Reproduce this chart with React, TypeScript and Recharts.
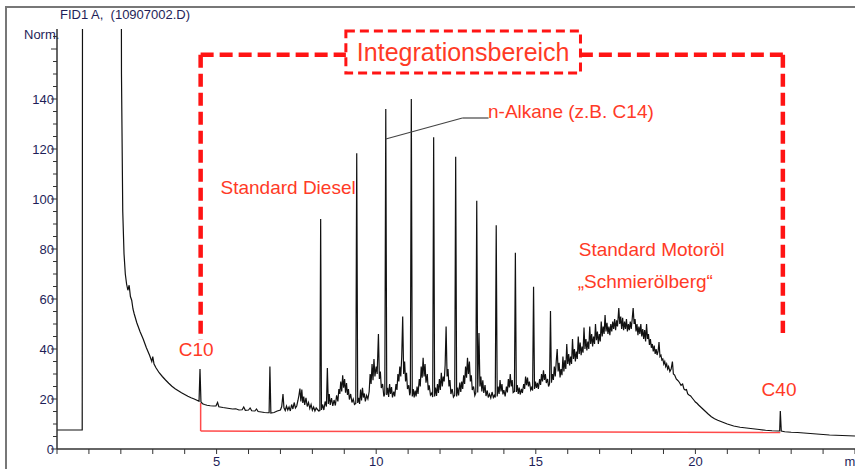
import { LineChart, Line, XAxis, YAxis, ReferenceLine, ReferenceArea, ReferenceDot, Label } from 'recharts'

// chromatogram trace, [minutes, signal]
const solventTrace: [number, number][] = [
  [0, 7.6], [0.79, 7.6], [0.81, 400], [1.99, 400], [2.02, 150], [2.06, 95], [2.1, 78], [2.14, 70],
  [2.18, 66], [2.22, 63.5], [2.26, 65.5], [2.3, 61], [2.34, 59.5], [2.38, 56], [2.42, 54], [2.5, 50.5],
  [2.6, 47], [2.7, 44], [2.8, 40.5], [2.9, 37.5], [2.97, 35], [3.0, 37], [3.04, 34], [3.1, 32.5],
  [3.2, 30.5], [3.3, 29], [3.4, 27.6], [3.5, 26.3], [3.6, 25.1], [3.7, 24.1], [3.8, 23.3], [3.9, 22.5],
  [4.0, 21.8], [4.1, 21.1], [4.2, 20.5], [4.3, 20], [4.4, 19.4], [4.45, 19.1], [4.48, 32], [4.51, 18.8],
  [4.56, 18.1], [4.62, 17.8], [4.7, 17.5], [4.8, 17.3], [4.9, 17.2], [4.98, 17.2], [5.03, 18.6], [5.07, 16.9],
  [5.2, 16.6], [5.3, 16.4], [5.4, 16.2], [5.5, 16], [5.6, 16.1], [5.7, 15.6], [5.8, 15.7], [5.85, 16.8],
  [5.9, 15.5], [6.0, 15.6], [6.05, 16.4], [6.1, 15.3], [6.2, 15.2], [6.25, 16], [6.3, 15], [6.4, 14.8],
  [6.5, 14.6], [6.6, 14.5], [6.645, 14.5], [6.67, 33], [6.7, 14.4], [6.8, 14.6], [6.9, 15.2],
]

const dieselTrace: [number, number][] = [
  [7.0, 15.6], [7.04, 17], [7.08, 22], [7.11, 16.5], [7.15, 15.4], [7.19, 17.2], [7.23, 15.6], [7.27, 16.8],
  [7.31, 15.2], [7.35, 17.8], [7.39, 16], [7.43, 18.6], [7.47, 16.4], [7.51, 17.2], [7.55, 19.5], [7.58, 21.5],
  [7.61, 24.2], [7.64, 19], [7.67, 23.8], [7.7, 18.4], [7.73, 21], [7.76, 17.6], [7.8, 20.5], [7.84, 17],
  [7.88, 18.6], [7.92, 16.2], [7.96, 17.8], [8.0, 15.5], [8.04, 16.8], [8.08, 15.2], [8.12, 16.4], [8.16, 15.8],
  [8.2, 15.2], [8.235, 15.4], [8.26, 92], [8.285, 15.6], [8.32, 17.8], [8.36, 15.6], [8.4, 19], [8.44, 17],
  [8.47, 32.4], [8.5, 18], [8.53, 22], [8.56, 17.6], [8.6, 20.4], [8.64, 17.2], [8.68, 19.6], [8.72, 17.4],
  [8.76, 21.5], [8.8, 19], [8.83, 24], [8.86, 22], [8.89, 27], [8.92, 23], [8.95, 29.5], [8.98, 24.5],
  [9.01, 28], [9.04, 22.5], [9.07, 26.4], [9.1, 21.6], [9.13, 24], [9.16, 19.8], [9.2, 22], [9.24, 18.6],
  [9.28, 20], [9.32, 17.8], [9.36, 18.2], [9.39, 118.3], [9.42, 18.4], [9.45, 20.5], [9.48, 18], [9.51, 23.8],
  [9.54, 19.4], [9.57, 24.5], [9.6, 20.6], [9.63, 22.2], [9.66, 19], [9.7, 21.4], [9.74, 20], [9.78, 23],
  [9.81, 30], [9.84, 26], [9.87, 34], [9.9, 27.5], [9.93, 36], [9.96, 29], [10.0, 33], [10.03, 30],
  [10.07, 46], [10.1, 28], [10.13, 31], [10.16, 24.4], [10.2, 26], [10.24, 21], [10.27, 22], [10.3, 136],
  [10.33, 21.6], [10.36, 24.5], [10.39, 20.8], [10.42, 26], [10.45, 22], [10.48, 24.8], [10.51, 20.6], [10.55, 23],
  [10.58, 21], [10.62, 26], [10.65, 23.6], [10.68, 30], [10.71, 27], [10.74, 33], [10.77, 29], [10.8, 37],
  [10.83, 53], [10.86, 30], [10.89, 35], [10.92, 27], [10.95, 30.5], [10.98, 24], [11.02, 25.5], [11.05, 21.5],
  [11.07, 22.6], [11.1, 140], [11.13, 21], [11.16, 24], [11.19, 20.6], [11.22, 23.4], [11.25, 21], [11.28, 25],
  [11.31, 22], [11.35, 28], [11.38, 25], [11.41, 33], [11.44, 28.5], [11.47, 36.5], [11.5, 29], [11.53, 34],
  [11.56, 26.5], [11.6, 30], [11.63, 23.5], [11.66, 25.5], [11.7, 21.6], [11.74, 22.4], [11.77, 20.8], [11.8, 124.7],
  [11.83, 21], [11.86, 24.6], [11.89, 21.2], [11.92, 26], [11.95, 22.4], [11.98, 28], [12.01, 23.6], [12.04, 30.5],
  [12.07, 25], [12.1, 29], [12.13, 27], [12.16, 33.6], [12.19, 49], [12.22, 29], [12.25, 32], [12.28, 25],
  [12.31, 27.6], [12.34, 22], [12.38, 24], [12.42, 20.8], [12.46, 21.6], [12.49, 116.9], [12.52, 21], [12.55, 24.6],
  [12.58, 21.4], [12.62, 26.6], [12.65, 22.8], [12.68, 27], [12.71, 24], [12.74, 29.5], [12.77, 26], [12.8, 33],
  [12.83, 28.5], [12.86, 36.5], [12.89, 30], [12.92, 35], [12.95, 27], [12.98, 29.5], [13.01, 23.6], [13.05, 25],
  [13.09, 21.4], [13.12, 22.4], [13.15, 99.3], [13.18, 22.6], [13.22, 46.4], [13.25, 25], [13.28, 29], [13.31, 23],
  [13.34, 27.5], [13.37, 22.4], [13.41, 25.6], [13.44, 21.2], [13.48, 23.4], [13.51, 20.6], [13.55, 22], [13.59, 20.4],
  [13.63, 22.8], [13.67, 20.6], [13.7, 21.4], [13.73, 20.6], [13.76, 89.5], [13.79, 21], [13.82, 25], [13.85, 22],
  [13.88, 27.6], [13.91, 23], [13.94, 26], [13.97, 21.8], [14.0, 23.6], [14.04, 21], [14.08, 25], [14.11, 22.6],
  [14.14, 28], [14.17, 24.6], [14.2, 30], [14.23, 25], [14.26, 27.6], [14.29, 22.6], [14.33, 23], [14.36, 78.5],
  [14.39, 22.8], [14.42, 25.6], [14.45, 22], [14.48, 24.6], [14.51, 21.8], [14.55, 24], [14.58, 22.4], [14.62, 26],
  [14.65, 24], [14.68, 29], [14.71, 25.5], [14.74, 28.6], [14.77, 25], [14.8, 27], [14.84, 23.6], [14.87, 24.6],
  [14.9, 23.4], [14.93, 64.9], [14.96, 24], [14.99, 27], [15.02, 24.4], [15.05, 26.5], [15.08, 24], [15.12, 28],
  [15.15, 25.6], [15.18, 30], [15.21, 27], [15.24, 31.5], [15.27, 27.6], [15.3, 30], [15.33, 26.4], [15.37, 28],
  [15.4, 25], [15.43, 26], [15.46, 55.2], [15.49, 26.5],
]

const motorOilTrace: [number, number][] = [
  [15.52, 30], [15.55, 27.6], [15.58, 33], [15.61, 29], [15.64, 35], [15.67, 40], [15.7, 31], [15.73, 34.5],
  [15.76, 28.6], [15.79, 32], [15.82, 29.5], [15.85, 37], [15.88, 31], [15.91, 35.5], [15.94, 32], [15.97, 42],
  [16.0, 34], [16.03, 38], [16.06, 33.4], [16.09, 37], [16.12, 34], [16.15, 44], [16.18, 36], [16.21, 40],
  [16.24, 35], [16.27, 39], [16.3, 36], [16.33, 45], [16.36, 38], [16.39, 42.6], [16.42, 37.5], [16.45, 41],
  [16.48, 38.5], [16.51, 48.6], [16.54, 40], [16.57, 44], [16.6, 39.4], [16.63, 43], [16.66, 40], [16.69, 49],
  [16.72, 42], [16.75, 46], [16.78, 41], [16.81, 45], [16.84, 42], [16.87, 50], [16.9, 43.5], [16.93, 47],
  [16.96, 42], [16.99, 46], [17.02, 43], [17.05, 51], [17.08, 45], [17.11, 49], [17.14, 46], [17.17, 53.6],
  [17.2, 47], [17.23, 50.5], [17.26, 46], [17.29, 49], [17.32, 45.5], [17.35, 50], [17.38, 47], [17.41, 51],
  [17.44, 48], [17.47, 52], [17.5, 47.5], [17.53, 51.5], [17.56, 49], [17.6, 56.4], [17.63, 50], [17.66, 53],
  [17.69, 48], [17.72, 52.5], [17.75, 47.5], [17.78, 51], [17.81, 48], [17.84, 52], [17.87, 47], [17.9, 50],
  [17.93, 47.5], [17.96, 51], [17.99, 48], [18.02, 52], [18.05, 56.4], [18.08, 50], [18.11, 52], [18.14, 47],
  [18.17, 50], [18.2, 45.5], [18.23, 49], [18.26, 46], [18.29, 50], [18.32, 45], [18.35, 48], [18.38, 44],
  [18.41, 47.6], [18.44, 43], [18.47, 50], [18.5, 44], [18.53, 46], [18.56, 41.6], [18.59, 44], [18.62, 40.5],
  [18.65, 42], [18.68, 39], [18.71, 41.4], [18.74, 38], [18.77, 40], [18.8, 37.6], [18.83, 39], [18.86, 42.8],
  [18.89, 37], [18.92, 37.5], [18.95, 35.6], [18.98, 36], [19.01, 34], [19.04, 35], [19.07, 33], [19.1, 34],
  [19.13, 32], [19.16, 33], [19.2, 31], [19.24, 32], [19.28, 35], [19.31, 30], [19.35, 29.6], [19.4, 28],
  [19.45, 27.4], [19.5, 26.6], [19.55, 25.5], [19.6, 26], [19.64, 24], [19.68, 23.6], [19.72, 23.8], [19.76, 22],
  [19.8, 21.6], [19.85, 21.2], [19.9, 20.4], [19.95, 19.6], [20.0, 18.8], [20.05, 18.3], [20.1, 17.6],
]

const tailTrace: [number, number][] = [
  [20.2, 16.4], [20.3, 15.2], [20.4, 14], [20.5, 12.9], [20.6, 12.1], [20.7, 11.5], [20.8, 11], [20.9, 10.5],
  [21.0, 10], [21.2, 9.2], [21.4, 8.7], [21.6, 8.4], [21.8, 8.1], [22.0, 7.8], [22.2, 7.5], [22.4, 7.3],
  [22.6, 7.2], [22.64, 7.2], [22.66, 15.2], [22.69, 7.2], [22.8, 6.9], [23.0, 6.7], [23.2, 6.6], [23.4, 6.4],
  [23.6, 6.2], [23.8, 6.0], [24.0, 5.8], [24.2, 5.6], [24.4, 5.5], [24.6, 5.4], [24.8, 5.3], [25.0, 5.2],
]

const xTicks = [0, 1, 2, 3, 4, 5, 6, 7, 8, 9, 10, 11, 12, 13, 14, 15, 16, 17, 18, 19, 20, 21, 22, 23, 24, 25]
const xLabels: Record<number, string> = { 5: '5', 10: '10', 15: '15', 20: '20', 25: 'min' }
const yTicks = [0, 5, 10, 15, 20, 25, 30, 35, 40, 45, 50, 55, 60, 65, 70, 75, 80, 85, 90, 95, 100, 105, 110, 115, 120, 125, 130, 135, 140, 145, 150, 155, 160, 165]
const yLabels = [0, 20, 40, 60, 80, 100, 120, 140]

// integration window (dashed red frame) and baseline
const windowStart = 4.5
const windowEnd = 22.74
const windowTop = 157.7
const leftBottom = 43.6
const rightBottom = 46.4
const labelBox = { x1: 9.05, x2: 16.4, y1: 150.4, y2: 167.2 }
const baseline = [
  { x: 4.5, y: 18.4 },
  { x: 4.5, y: 7.2 },
  { x: 22.66, y: 6.6 },
]
const leader = [
  { x: 10.3, y: 124 },
  { x: 12.7, y: 132.4 },
  { x: 13.52, y: 132.4 },
]

const annotations = [
  { text: 'C10', x: 4.36, y: 40 },
  { text: 'Standard Diesel', x: 7.24, y: 104.8 },
  { text: 'n-Alkane (z.B. C14)', x: 16.1, y: 135.2 },
  { text: 'Standard Motoröl', x: 18.63, y: 80 },
  { text: '„Schmierölberg“', x: 18.43, y: 67.2 },
  { text: 'C40', x: 22.62, y: 24 },
]

const data = [...solventTrace, ...dieselTrace, ...motorOilTrace, ...tailTrace].map(([t, v]) => ({ t, v }))

const RED = '#ff1414'
const TEXT_RED = '#ff3a26'
const NAVY = '#1e1e58'

function YTick({ x, y, payload }: any) {
  const v = payload.value
  const major = v % 20 === 0
  return (
    <g>
      <line x1={x - (major ? 6 : 4)} x2={x} y1={y} y2={y} stroke="#333" />
      {yLabels.includes(v) && (
        <text x={x - 3} y={y} dy={4.5} textAnchor="end" fontSize={13} fill={NAVY}>
          {v}
        </text>
      )}
    </g>
  )
}

function XTick({ x, y, payload }: any) {
  const label = xLabels[payload.value]
  return (
    <g>
      <line x1={x} x2={x} y1={y} y2={y + 5} stroke="#333" />
      {label && (
        <text x={x} y={y + 17} textAnchor="middle" fontSize={13} fill={NAVY}>
          {label}
        </text>
      )}
    </g>
  )
}

export default function App() {
  return (
    <div
      style={{
        position: 'absolute',
        left: 0,
        top: 0,
        width: 855,
        height: 469,
        background: '#fff',
        overflow: 'hidden',
        fontFamily: '"Liberation Sans", Arial, sans-serif',
      }}
    >
      <div style={{ position: 'absolute', left: 5, top: 6, width: 850, height: 463, borderLeft: '2px solid #777', borderTop: '2px solid #777' }} />
      <div style={{ position: 'absolute', left: 60, top: 7, fontSize: 13, color: NAVY }}>FID1 A,&nbsp; (10907002.D)</div>
      <div style={{ position: 'absolute', left: 24, top: 27, fontSize: 13, color: NAVY }}>Norm.</div>
      <LineChart width={855} height={469} data={data} margin={{ top: 29, right: 0, left: 0, bottom: 0 }} style={{ position: 'absolute', left: 0, top: 0 }}>
        <XAxis
          type="number"
          dataKey="t"
          domain={[0, 25]}
          ticks={xTicks}
          allowDataOverflow
          height={20}
          tickSize={0}
          tickMargin={0}
          tick={<XTick />}
          axisLine={{ stroke: '#333', strokeWidth: 1.5 }}
          interval={0}
        />
        <YAxis
          type="number"
          domain={[0, 168]}
          ticks={yTicks}
          allowDataOverflow
          width={57}
          tickSize={0}
          tickMargin={0}
          tick={<YTick />}
          axisLine={{ stroke: '#333', strokeWidth: 1.5 }}
          interval={0}
        />
        <ReferenceLine segment={[baseline[0], baseline[1]]} stroke="#ff4a4a" strokeWidth={1.5} />
        <ReferenceLine segment={[baseline[1], baseline[2]]} stroke="#ff4a4a" strokeWidth={1.5} />
        <Line type="linear" dataKey="v" stroke="#111" strokeWidth={1.2} dot={false} isAnimationActive={false} />
        <ReferenceLine segment={[leader[0], leader[1]]} stroke="#444" strokeWidth={1.2} />
        <ReferenceLine segment={[leader[1], leader[2]]} stroke="#444" strokeWidth={1.2} />
        <ReferenceLine segment={[{ x: windowStart, y: windowTop }, { x: windowStart, y: leftBottom }]} stroke={RED} strokeWidth={4.5} strokeDasharray="13 6" />
        <ReferenceLine segment={[{ x: windowStart, y: windowTop }, { x: labelBox.x1, y: windowTop }]} stroke={RED} strokeWidth={4.5} strokeDasharray="13 6" />
        <ReferenceLine segment={[{ x: windowEnd, y: windowTop }, { x: labelBox.x2, y: windowTop }]} stroke={RED} strokeWidth={4.5} strokeDasharray="13 6" />
        <ReferenceLine segment={[{ x: windowEnd, y: windowTop }, { x: windowEnd, y: rightBottom }]} stroke={RED} strokeWidth={4.5} strokeDasharray="13 6" />
        <ReferenceArea
          x1={labelBox.x1}
          x2={labelBox.x2}
          y1={labelBox.y1}
          y2={labelBox.y2}
          fill="#fff"
          fillOpacity={1}
          stroke={RED}
          strokeWidth={3}
          strokeDasharray="9 5"
        >
          <Label value="Integrationsbereich" position="center" fill={TEXT_RED} fontSize={25} />
        </ReferenceArea>
        {annotations.map((a) => (
          <ReferenceDot key={a.text} x={a.x} y={a.y} r={0} fill="none" stroke="none">
            <Label value={a.text} position="center" fill={TEXT_RED} fontSize={19} />
          </ReferenceDot>
        ))}
      </LineChart>
    </div>
  )
}
